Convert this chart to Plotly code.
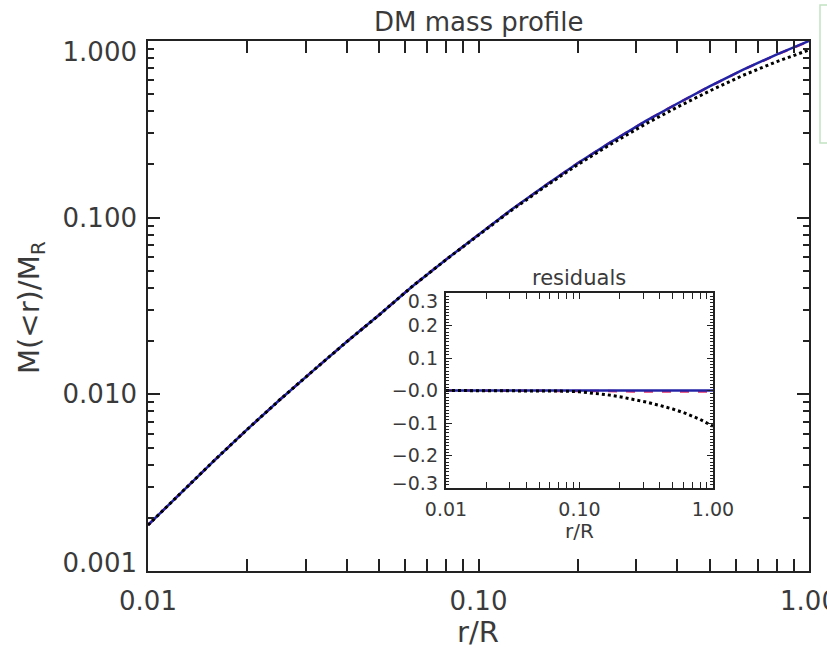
import plotly.graph_objects as go

# ---- data ----
r = [0.01, 0.0125, 0.016, 0.02, 0.025, 0.032, 0.04, 0.05, 0.063, 0.08, 0.1,
     0.125, 0.16, 0.2, 0.25, 0.32, 0.4, 0.5, 0.63, 0.8, 1.0]
m_blue = [0.00182, 0.00275, 0.00429, 0.00635, 0.00929, 0.0139, 0.0199, 0.0281,
          0.0408, 0.0582, 0.080, 0.110, 0.153, 0.204, 0.266, 0.352, 0.443,
          0.553, 0.687, 0.840, 1.0]
m_red = [0.00182, 0.00275, 0.00429, 0.00635, 0.00929, 0.0139, 0.0199, 0.0281,
         0.0408, 0.0582, 0.080, 0.110, 0.153, 0.204, 0.266, 0.352, 0.443,
         0.553, 0.686, 0.838, 0.997]
m_dot = [0.00182, 0.00275, 0.00429, 0.00635, 0.00929, 0.0139, 0.0199, 0.0281,
         0.0408, 0.0581, 0.0797, 0.1091, 0.151, 0.200, 0.259, 0.339, 0.423,
         0.521, 0.638, 0.765, 0.890]

res_blue = [0.0, 0.0, 0.0, 0.0, 0.0, 0.0, 0.0, 0.0, 0.0, 0.0, 0.0,
            0.0, 0.0, 0.0, 0.0, 0.0, 0.0, 0.0, 0.0, 0.0, 0.0]
res_red = [0.0, 0.0, 0.0, 0.0, 0.0, 0.0, 0.0, 0.0, 0.0, 0.0, 0.0,
           0.0, -0.001, -0.002, -0.003, -0.003, -0.003, -0.003, -0.003, -0.003, -0.003]
res_dot = [0.0, 0.0, 0.0, 0.0, 0.0, 0.0, 0.0, -0.001, -0.001, -0.002, -0.004,
           -0.008, -0.013, -0.019, -0.026, -0.036, -0.046, -0.057, -0.071, -0.089, -0.110]

main_xticks = [0.01, 0.1, 1.0]
main_xtext = ["0.01", "0.10", "1.00"]
main_yticks = [0.001, 0.01, 0.1, 1.0]
main_ytext = ["0.001", "0.010", "0.100", "1.000"]
inset_yticks = [-0.3, -0.2, -0.1, 0.0, 0.1, 0.2, 0.3]
inset_ytext = ["\u22120.3", "\u22120.2", "\u22120.1", "\u22120.0", "0.1", "0.2", "0.3"]

# label anchor positions (IDL keeps the end labels inside the frame)
main_ylabel_pos = [0.001 * 10 ** (8 / 176.7), 0.01, 0.1, 10 ** (-11 / 176.7)]
inset_ylabel_pos = [-0.285, -0.2, -0.1, 0.0, 0.1, 0.2, 0.274]

# ---- layout geometry (pixels) ----
W, H = 827, 649
L, R, T, B = 148, 809, 41, 571


def px(x):
    return (x - L) / (R - L)


def py(y):
    return (B - y) / (B - T)


minor_x = [m * 10 ** e for e in (-2, -1) for m in range(2, 10)]
minor_y = [m * 10 ** e for e in (-3, -2, -1) for m in range(2, 10)]

BLUE = "#2323a6"
RED = "#e0306a"
AX = "#222222"
TXT = "#3a3a3a"
FONT = "DejaVu Sans"

fig = go.Figure()
# main panel: red dashed underneath (base axis), blue + dotted above (label axis, same scale)
fig.add_trace(go.Scatter(x=r, y=m_red, mode="lines", xaxis="x", yaxis="y",
                         line=dict(color=RED, width=2.5, dash="dash"), showlegend=False))
fig.add_trace(go.Scatter(x=r, y=m_blue, mode="lines", xaxis="x", yaxis="y3",
                         line=dict(color=BLUE, width=2.5), showlegend=False))
fig.add_trace(go.Scatter(x=r, y=m_dot, mode="lines", xaxis="x", yaxis="y3",
                         line=dict(color="black", width=3, dash="dot"), showlegend=False))
# inset residuals
fig.add_trace(go.Scatter(x=r, y=res_red, mode="lines", xaxis="x2", yaxis="y2",
                         line=dict(color=RED, width=2.5, dash="dash"), showlegend=False))
fig.add_trace(go.Scatter(x=r, y=res_blue, mode="lines", xaxis="x2", yaxis="y4",
                         line=dict(color=BLUE, width=2.5), showlegend=False))
fig.add_trace(go.Scatter(x=r, y=res_dot, mode="lines", xaxis="x2", yaxis="y4",
                         line=dict(color="black", width=3, dash="dot"), showlegend=False))

axis_common = dict(showline=True, linecolor=AX, linewidth=2, mirror="allticks",
                   ticks="inside", tickcolor=AX, showgrid=False, zeroline=False,
                   automargin=False)
label_axis = dict(showline=False, ticks="", showgrid=False, zeroline=False, side="left",
                  automargin=False)

fig.update_layout(
    width=W, height=H, autosize=False,
    margin=dict(l=L, r=W - R, t=T, b=H - B),
    paper_bgcolor="white", plot_bgcolor="white",
    font=dict(family=FONT, color=TXT),
    xaxis=dict(type="log", range=[-2, 0], domain=[0, 1], anchor="y",
               tickvals=main_xticks, ticktext=main_xtext, ticklen=12, tickwidth=1.5,
               tickfont=dict(size=26, color=TXT, family=FONT), ticklabelstandoff=6,
               ticklabeloverflow="allow",
               minor=dict(tickvals=minor_x, ticks="inside", ticklen=6, tickcolor=AX, showgrid=False),
               **axis_common),
    yaxis=dict(type="log", range=[-3, 0], domain=[0, 1], anchor="x",
               tickvals=main_yticks, showticklabels=False, ticklen=12, tickwidth=1.5,
               minor=dict(tickvals=minor_y, ticks="inside", ticklen=6, tickcolor=AX, showgrid=False),
               **axis_common),
    yaxis3=dict(type="log", range=[-3, 0], overlaying="y", anchor="x",
                tickvals=main_ylabel_pos, ticktext=main_ytext,
                tickfont=dict(size=26, color=TXT, family=FONT), ticklabelstandoff=10,
                ticklabeloverflow="allow", **label_axis),
    xaxis2=dict(type="log", range=[-2, 0], domain=[px(446), px(713)], anchor="y2",
                tickvals=main_xticks, ticktext=main_xtext, ticklen=6, tickwidth=1.2,
                tickfont=dict(size=19, color=TXT, family=FONT), ticklabelstandoff=3,
                ticklabeloverflow="allow",
                minor=dict(tickvals=minor_x, ticks="inside", ticklen=3, tickcolor=AX, showgrid=False),
                **axis_common),
    yaxis2=dict(range=[-0.3, 0.3], domain=[py(488), py(293)], anchor="x2",
                tickvals=inset_yticks, showticklabels=False, ticklen=6, tickwidth=1.2,
                minor=dict(dtick=0.01, ticks="inside", ticklen=3, tickcolor=AX, showgrid=False),
                **axis_common),
    yaxis4=dict(range=[-0.3, 0.3], overlaying="y2", anchor="x2",
                tickvals=inset_ylabel_pos, ticktext=inset_ytext,
                tickfont=dict(size=19, color=TXT, family=FONT), ticklabelstandoff=7,
                ticklabeloverflow="allow", **label_axis),
    shapes=[dict(type="rect", xref="paper", yref="paper",
                 x0=px(820), x1=px(900), y0=py(143), y1=py(5),
                 line=dict(color="#c2e2c2", width=1.5), fillcolor="rgba(0,0,0,0)")],
    annotations=[
        dict(text="DM mass profile", xref="paper", yref="paper", x=px(478), y=py(22),
             showarrow=False, font=dict(size=26, color=TXT), xanchor="center", yanchor="middle"),
        dict(text="r/R", xref="paper", yref="paper", x=px(478), y=py(632),
             showarrow=False, font=dict(size=29, color=TXT), xanchor="center", yanchor="middle"),
        dict(text="M(<r)/M<sub>R</sub>", xref="paper", yref="paper", x=px(31), y=py(308),
             showarrow=False, textangle=-90, font=dict(size=29, color=TXT),
             xanchor="center", yanchor="middle"),
        dict(text="residuals", xref="paper", yref="paper", x=px(579), y=py(278),
             showarrow=False, font=dict(size=21, color=TXT), xanchor="center", yanchor="middle"),
        dict(text="r/R", xref="paper", yref="paper", x=px(579), y=py(531),
             showarrow=False, font=dict(size=20, color=TXT), xanchor="center", yanchor="middle"),
    ],
)

post = "document.body.style.margin='0';document.body.style.overflow='hidden';"
fig.write_html("out.html", post_script=post,
               config={"responsive": False, "displayModeBar": False})
